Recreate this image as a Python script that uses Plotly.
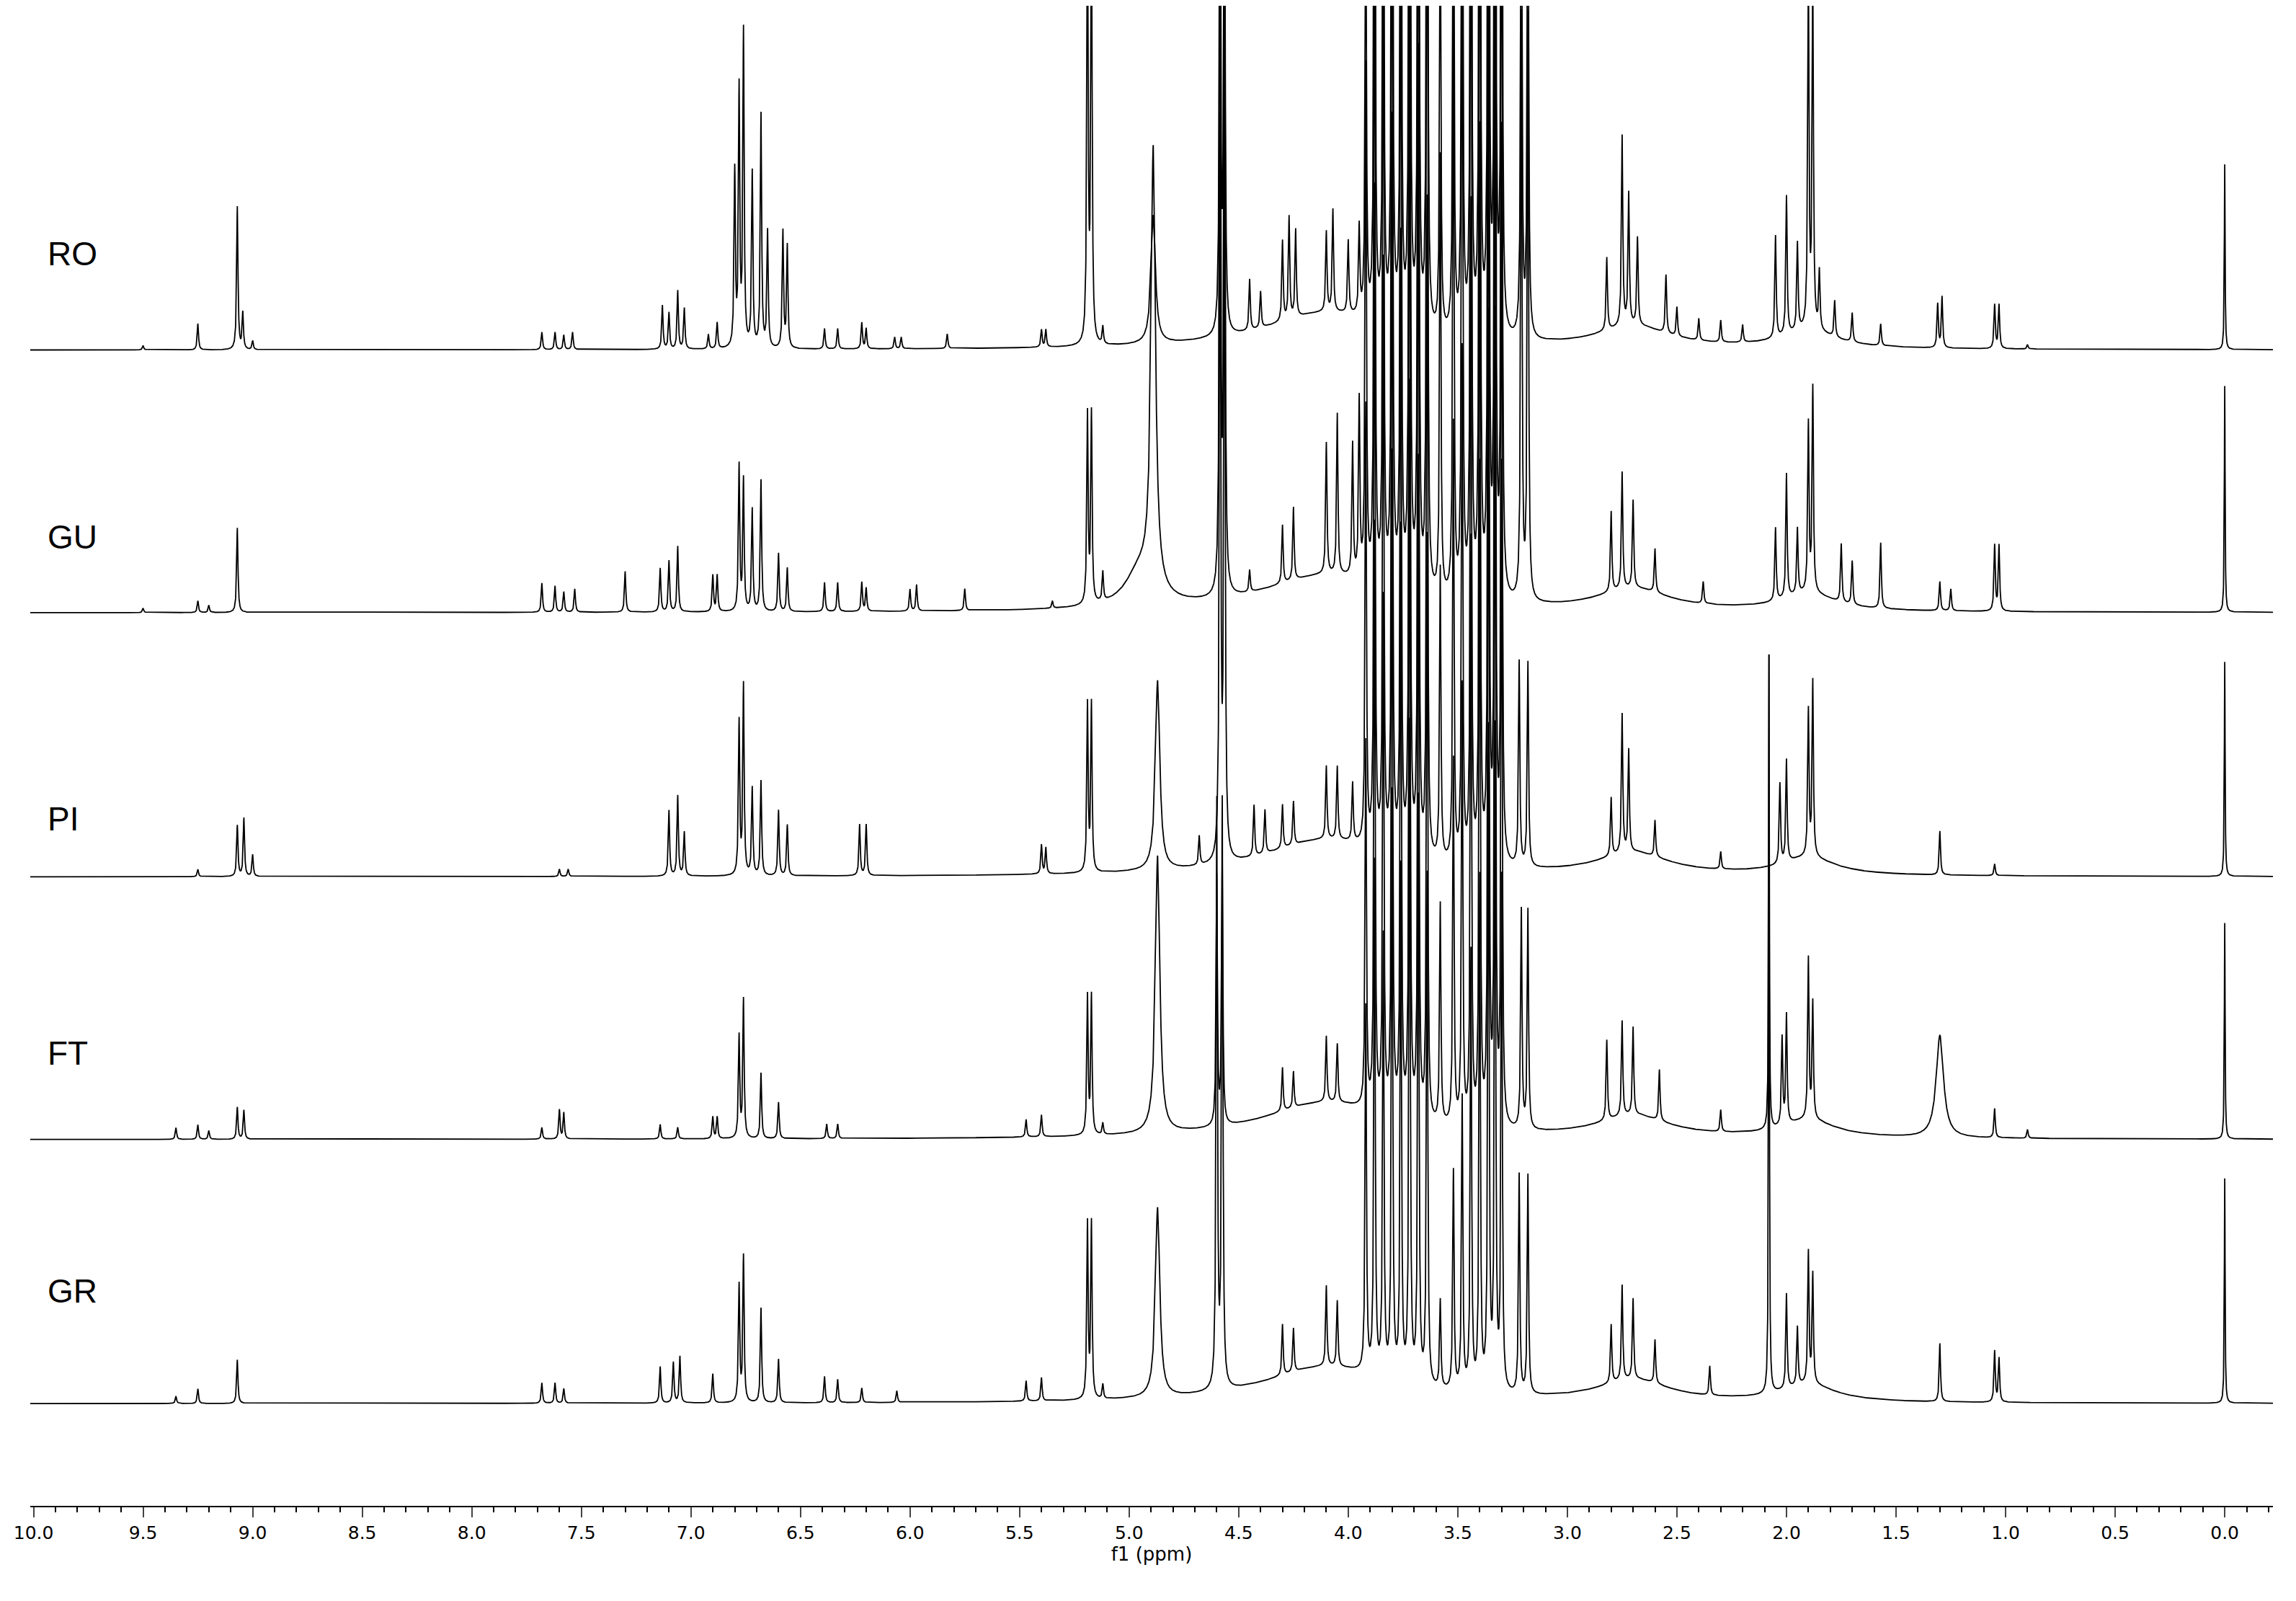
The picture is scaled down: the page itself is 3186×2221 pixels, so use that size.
import numpy as np
import plotly.graph_objects as go

labels = ["RO", "GU", "PI", "FT", "GR"]
offsets = [792, 612, 431, 251, 70]
label_y = [858, 664, 471, 310, 147]

# peak lists: (ppm, height, [width])
RO = [(9.50,3),(9.25,18),(9.07,98),(9.045,25),(9.0,6),(7.68,12),(7.62,12),(7.58,10),(7.54,12),
      (7.13,30),(7.10,25),(7.06,40),(7.03,28),(6.92,10),(6.88,18),(6.80,120),(6.78,175),(6.76,215),
      (6.72,120),(6.68,160),(6.65,80),(6.58,80),(6.56,70),(6.39,14),(6.33,14),(6.22,18),(6.20,14),
      (6.07,8),(6.04,8),(5.83,10),(5.40,12),(5.38,12),(5.19,300),(5.172,300),(5.12,12),(4.89,88,0.012),
      (4.585,400),(4.565,400),(4.45,35),(4.40,25),(4.30,55),(4.27,70),(4.24,60),(4.10,55),(4.07,70),
      (4.0,50),(3.95,60),(3.92,300),(3.88,500),(3.84,450),(3.80,600),(3.76,520),(3.72,700),(3.68,650),
      (3.64,600),(3.58,300),(3.52,400),(3.48,500),(3.44,600),(3.40,650),(3.36,700),(3.33,700),(3.30,600),
      (3.21,400),(3.18,400),(2.82,50),(2.75,130),(2.72,90),(2.68,60),(2.55,40),(2.50,20),(2.40,15),
      (2.30,15),(2.20,12),(2.05,70),(2.00,95),(1.95,60),(1.90,240),(1.88,240),(1.85,40),(1.78,25),
      (1.70,20),(1.57,15),(1.31,30),(1.29,35),(1.05,30),(1.03,30),(0.90,3),(0.0,127,0.002)]
GU = [(9.50,3),(9.25,8),(9.20,5),(9.07,58),(7.68,20),(7.62,18),(7.58,14),(7.53,16),(7.30,28),
      (7.14,30),(7.10,35),(7.06,45),(6.90,25),(6.88,25),(6.78,100),(6.76,90),(6.72,70),(6.68,90),
      (6.60,40),(6.56,30),(6.39,20),(6.33,20),(6.22,20),(6.20,16),(6.00,15),(5.97,18),(5.75,15),
      (5.35,5),(5.19,130),(5.172,130),(5.12,20),(4.95,25,0.08),(4.89,300,0.012),(4.585,500),(4.565,500),
      (4.45,15),(4.30,40),(4.25,50),(4.10,90),(4.05,110),(3.98,90),(3.95,120),(3.92,350),(3.88,500),
      (3.84,450),(3.80,600),(3.76,500),(3.72,700),(3.68,650),(3.64,600),(3.58,300),(3.52,400),
      (3.48,500),(3.44,600),(3.40,650),(3.36,700),(3.33,700),(3.30,600),(3.21,400),(3.18,400),
      (2.80,55),(2.75,80),(2.70,60),(2.60,30),(2.38,15),(2.05,50),(2.00,85),(1.95,45),(1.90,115),
      (1.88,140),(1.75,40),(1.70,30),(1.57,45),(1.30,20),(1.25,15),(1.05,45),(1.03,45),(0.0,155,0.002)]
PI = [(9.25,5),(9.07,35),(9.04,40),(9.0,15),(7.60,5),(7.56,5),(7.10,45),(7.06,55),(7.03,30),
      (6.78,105),(6.76,130),(6.72,60),(6.68,65),(6.60,45),(6.56,35),(6.23,35),(6.20,35),(5.40,20),
      (5.38,18),(5.19,115),(5.172,115),(4.87,130,0.012),(4.68,20),(4.585,500),(4.565,500),(4.43,35),
      (4.38,30),(4.30,30),(4.25,30),(4.10,50),(4.05,50),(3.98,40),(3.92,300),(3.88,450),(3.84,400),
      (3.80,500),(3.76,420),(3.72,600),(3.68,550),(3.64,450),(3.58,200),(3.52,300),(3.48,350),
      (3.44,450),(3.40,500),(3.36,600),(3.33,600),(3.30,500),(3.22,140),(3.18,140),(2.80,40),
      (2.75,95),(2.72,70),(2.60,25),(2.30,12),(2.03,55),(2.00,70),(1.90,100),(1.88,120),(1.30,30),
      (1.05,8),(0.0,147,0.002)]
FT = [(9.35,8),(9.25,10),(9.20,6),(9.07,22),(9.04,20),(7.68,8),(7.60,20),(7.58,18),(7.14,10),
      (7.06,8),(6.90,15),(6.88,15),(6.78,70),(6.76,95),(6.68,45),(6.60,25),(6.38,10),(6.33,10),
      (5.47,12),(5.40,15),(5.19,95),(5.172,95),(5.12,8),(4.87,190,0.012),(4.60,170),(4.575,180),
      (4.30,30),(4.25,25),(4.10,45),(4.05,40),(3.92,250),(3.88,400),(3.84,350),(3.80,450),
      (3.76,400),(3.72,500),(3.68,450),(3.64,400),(3.58,150),(3.52,250),(3.48,300),(3.44,400),
      (3.40,450),(3.36,550),(3.33,550),(3.30,450),(3.21,150),(3.18,150),(2.82,55),(2.75,65),
      (2.70,60),(2.58,35),(2.30,15),(2.08,325,0.002),(2.02,60),(2.00,75),(1.90,110),(1.88,80),
      (1.30,70,0.02),(1.05,20),(0.90,6),(0.0,148,0.002)]
GR = [(9.35,5),(9.25,10),(9.07,30),(7.68,14),(7.62,14),(7.58,10),(7.14,25),(7.08,28),(7.05,32),
      (6.90,20),(6.78,80),(6.76,100),(6.68,65),(6.60,30),(6.39,18),(6.33,16),(6.22,10),(6.06,8),
      (5.47,14),(5.40,16),(5.19,120),(5.172,120),(5.12,10),(4.87,130,0.012),(4.60,400),(4.575,400),
      (4.30,35),(4.25,30),(4.10,55),(4.05,45),(3.92,250),(3.88,350),(3.84,300),(3.80,400),
      (3.76,350),(3.72,450),(3.68,400),(3.64,350),(3.58,60),(3.52,150),(3.48,200),(3.44,300),
      (3.40,350),(3.36,450),(3.33,450),(3.30,350),(3.22,150),(3.18,150),(2.80,40),(2.75,65),
      (2.70,55),(2.60,30),(2.35,20),(2.08,506,0.002),(2.00,65),(1.95,40),(1.90,90),(1.88,75),
      (1.30,40),(1.05,35),(1.03,30),(0.0,154,0.002)]
spectra = [RO, GU, PI, FT, GR]
hump = [(4.1,25,0.35),(2.7,15,0.2),(1.9,12,0.15)]

x = np.arange(-0.22, 10.02, 0.0005)
fig = go.Figure()
for lab, off, pk in zip(labels, offsets, spectra):
    y = np.zeros_like(x)
    for p in pk + hump:
        w = p[2] if len(p) > 2 else 0.0035
        y += p[1] / (1 + ((x - p[0]) / w) ** 2)
    fig.add_trace(go.Scatter(x=x, y=y + off, mode="lines", line=dict(color="black", width=1.8),
                             showlegend=False, hoverinfo="skip"))

for lab, ly in zip(labels, label_y):
    fig.add_annotation(x=0.007, xref="paper", y=ly, yref="y", text=lab, showarrow=False,
                       xanchor="left", font=dict(size=46, color="black", family="Liberation Sans"))

fig.update_layout(width=3186, height=2221, plot_bgcolor="white", paper_bgcolor="white",
                  margin=dict(l=34, r=40, t=0, b=140),
                  font=dict(family="DejaVu Sans", color="black"))
fig.update_xaxes(range=[10.015, -0.22], tickvals=[i * 0.5 for i in range(21)], tickformat=".1f",
                 ticks="outside", ticklen=14, tickwidth=2, showgrid=False, zeroline=False,
                 showline=True, linecolor="black", linewidth=2, tickfont=dict(size=25),
                 minor=dict(dtick=0.1, ticks="outside", ticklen=7, tickwidth=2, tickcolor="black"),
                 title=dict(text="f1 (ppm)", font=dict(size=26), standoff=4))
fig.update_yaxes(range=[0, 1028], visible=False)
fig.write_html("out.html")
